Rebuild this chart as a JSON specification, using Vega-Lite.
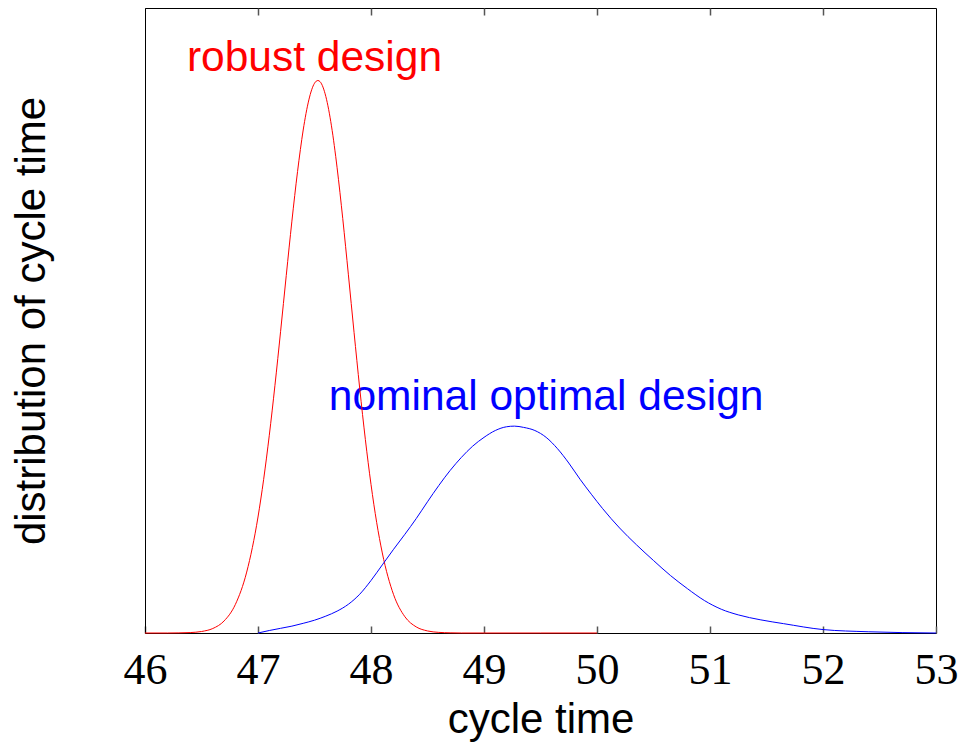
{
  "$schema": "https://vega.github.io/schema/vega-lite/v6.json",
  "width": 791,
  "height": 625,
  "autosize": {"type": "none"},
  "padding": {"left": 145, "top": 8, "right": 30, "bottom": 112},
  "background": "white",
  "config": {
    "view": {"stroke": "black", "strokeWidth": 1},
    "axis": {"grid": false, "domainColor": "black", "domainWidth": 1, "tickColor": "#555555", "tickWidth": 1.5, "tickOpacity": 1, "ticks": true, "zindex": 2}
  },
  "datasets": {
    "curves": [
      {"t": 46.0, "density": 0, "series": "robust"},
      {"t": 46.2, "density": 0, "series": "robust"},
      {"t": 46.3, "density": 0.0002, "series": "robust"},
      {"t": 46.4, "density": 0.0007, "series": "robust"},
      {"t": 46.5, "density": 0.0024, "series": "robust"},
      {"t": 46.6, "density": 0.0072, "series": "robust"},
      {"t": 46.7, "density": 0.0193, "series": "robust"},
      {"t": 46.8, "density": 0.0458, "series": "robust"},
      {"t": 46.9, "density": 0.0975, "series": "robust"},
      {"t": 47.0, "density": 0.1856, "series": "robust"},
      {"t": 47.05, "density": 0.2458, "series": "robust"},
      {"t": 47.1, "density": 0.3164, "series": "robust"},
      {"t": 47.15, "density": 0.3963, "series": "robust"},
      {"t": 47.2, "density": 0.4827, "series": "robust"},
      {"t": 47.25, "density": 0.572, "series": "robust"},
      {"t": 47.3, "density": 0.659, "series": "robust"},
      {"t": 47.35, "density": 0.7384, "series": "robust"},
      {"t": 47.4, "density": 0.8048, "series": "robust"},
      {"t": 47.45, "density": 0.853, "series": "robust"},
      {"t": 47.5, "density": 0.8796, "series": "robust"},
      {"t": 47.53, "density": 0.884, "series": "robust"},
      {"t": 47.55, "density": 0.882, "series": "robust"},
      {"t": 47.6, "density": 0.8586, "series": "robust"},
      {"t": 47.65, "density": 0.8115, "series": "robust"},
      {"t": 47.7, "density": 0.7444, "series": "robust"},
      {"t": 47.75, "density": 0.663, "series": "robust"},
      {"t": 47.8, "density": 0.5731, "series": "robust"},
      {"t": 47.85, "density": 0.481, "series": "robust"},
      {"t": 47.9, "density": 0.3917, "series": "robust"},
      {"t": 47.95, "density": 0.3098, "series": "robust"},
      {"t": 48.0, "density": 0.2378, "series": "robust"},
      {"t": 48.05, "density": 0.1771, "series": "robust"},
      {"t": 48.1, "density": 0.1281, "series": "robust"},
      {"t": 48.2, "density": 0.0613, "series": "robust"},
      {"t": 48.3, "density": 0.026, "series": "robust"},
      {"t": 48.4, "density": 0.0098, "series": "robust"},
      {"t": 48.5, "density": 0.0033, "series": "robust"},
      {"t": 48.6, "density": 0.001, "series": "robust"},
      {"t": 48.7, "density": 0.0003, "series": "robust"},
      {"t": 48.8, "density": 0, "series": "robust"},
      {"t": 49.0, "density": 0, "series": "robust"},
      {"t": 49.5, "density": 0, "series": "robust"},
      {"t": 50.0, "density": 0, "series": "robust"},
      {"t": 47.0, "density": 0, "series": "nominal"},
      {"t": 47.1, "density": 0.004, "series": "nominal"},
      {"t": 47.2, "density": 0.0075, "series": "nominal"},
      {"t": 47.3, "density": 0.011, "series": "nominal"},
      {"t": 47.4, "density": 0.0155, "series": "nominal"},
      {"t": 47.5, "density": 0.0205, "series": "nominal"},
      {"t": 47.6, "density": 0.027, "series": "nominal"},
      {"t": 47.7, "density": 0.035, "series": "nominal"},
      {"t": 47.8, "density": 0.046, "series": "nominal"},
      {"t": 47.9, "density": 0.062, "series": "nominal"},
      {"t": 48.0, "density": 0.084, "series": "nominal"},
      {"t": 48.1, "density": 0.109, "series": "nominal"},
      {"t": 48.2, "density": 0.134, "series": "nominal"},
      {"t": 48.3, "density": 0.158, "series": "nominal"},
      {"t": 48.4, "density": 0.183, "series": "nominal"},
      {"t": 48.5, "density": 0.21, "series": "nominal"},
      {"t": 48.6, "density": 0.236, "series": "nominal"},
      {"t": 48.7, "density": 0.26, "series": "nominal"},
      {"t": 48.8, "density": 0.281, "series": "nominal"},
      {"t": 48.9, "density": 0.299, "series": "nominal"},
      {"t": 49.0, "density": 0.313, "series": "nominal"},
      {"t": 49.1, "density": 0.324, "series": "nominal"},
      {"t": 49.2, "density": 0.33, "series": "nominal"},
      {"t": 49.27, "density": 0.331, "series": "nominal"},
      {"t": 49.35, "density": 0.329, "series": "nominal"},
      {"t": 49.45, "density": 0.324, "series": "nominal"},
      {"t": 49.55, "density": 0.313, "series": "nominal"},
      {"t": 49.65, "density": 0.295, "series": "nominal"},
      {"t": 49.75, "density": 0.272, "series": "nominal"},
      {"t": 49.85, "density": 0.246, "series": "nominal"},
      {"t": 49.95, "density": 0.222, "series": "nominal"},
      {"t": 50.05, "density": 0.199, "series": "nominal"},
      {"t": 50.2, "density": 0.168, "series": "nominal"},
      {"t": 50.35, "density": 0.141, "series": "nominal"},
      {"t": 50.5, "density": 0.116, "series": "nominal"},
      {"t": 50.65, "density": 0.092, "series": "nominal"},
      {"t": 50.8, "density": 0.071, "series": "nominal"},
      {"t": 50.95, "density": 0.052, "series": "nominal"},
      {"t": 51.1, "density": 0.038, "series": "nominal"},
      {"t": 51.25, "density": 0.029, "series": "nominal"},
      {"t": 51.45, "density": 0.021, "series": "nominal"},
      {"t": 51.65, "density": 0.015, "series": "nominal"},
      {"t": 52.0, "density": 0.0055, "series": "nominal"},
      {"t": 52.4, "density": 0.002, "series": "nominal"},
      {"t": 53.0, "density": 0, "series": "nominal"}
    ],
    "labels": [
      {"t": 47.5, "density": 0.8986, "label": "robust design", "series": "robust"},
      {"t": 49.55, "density": 0.3568, "label": "nominal optimal design", "series": "nominal"}
    ]
  },
  "layer": [
    {
      "data": {"name": "labels"},
      "mark": {"type": "text", "font": "Liberation Sans", "fontSize": 42.5, "align": "center", "baseline": "alphabetic"},
      "encoding": {
        "x": {
          "field": "t", "type": "quantitative",
          "scale": {"domain": [46, 53], "nice": false, "zero": false},
          "axis": {"orient": "top", "values": [47, 48, 49, 50, 51, 52], "labels": false, "ticks": true, "tickSize": 7, "offset": -7, "title": null, "domain": false, "grid": false}
        },
        "y": {
          "field": "density", "type": "quantitative", "scale": {"domain": [0, 1], "nice": false},
          "axis": {
            "title": "distribution of cycle time", "labels": false, "ticks": false, "domain": true, "grid": false,
            "titleFont": "Liberation Sans", "titleFontSize": 42, "titleFontWeight": "normal",
            "titleColor": "black", "titlePadding": 92
          }
        },
        "text": {"field": "label"},
        "color": {"field": "series", "type": "nominal", "scale": {"domain": ["robust", "nominal"], "range": ["#ff0000", "#0000ff"]}, "legend": null}
      }
    },
    {
      "data": {"name": "curves"},
      "mark": {"type": "line", "strokeWidth": 1, "interpolate": "monotone"},
      "encoding": {
        "x": {
          "field": "t", "type": "quantitative",
          "scale": {"domain": [46, 53], "nice": false, "zero": false},
          "axis": {
            "orient": "bottom", "values": [46, 47, 48, 49, 50, 51, 52, 53], "format": "d",
            "offset": -7, "domain": false, "ticks": true, "tickSize": 7, "labelPadding": 15,
            "labelFont": "Liberation Serif", "labelFontSize": 44,
            "labelColor": "black", "labelBaseline": "top", "labelFlush": false, "labelBound": false, "labelOverlap": false,
            "grid": false,
            "title": "cycle time", "titleFont": "Liberation Sans", "titleFontSize": 42, "titleFontWeight": "normal",
            "titleColor": "black", "titlePadding": 7
          }
        },
        "y": {
          "field": "density", "type": "quantitative",
          "scale": {"domain": [0, 1], "nice": false},
          "axis": {
            "title": "distribution of cycle time", "labels": false, "ticks": false, "domain": true, "grid": false,
            "titleFont": "Liberation Sans", "titleFontSize": 42, "titleFontWeight": "normal",
            "titleColor": "black", "titlePadding": 92
          }
        },
        "color": {"field": "series", "type": "nominal", "scale": {"domain": ["robust", "nominal"], "range": ["#ff0000", "#0000ff"]}, "legend": null}
      }
    }
  ]
}
